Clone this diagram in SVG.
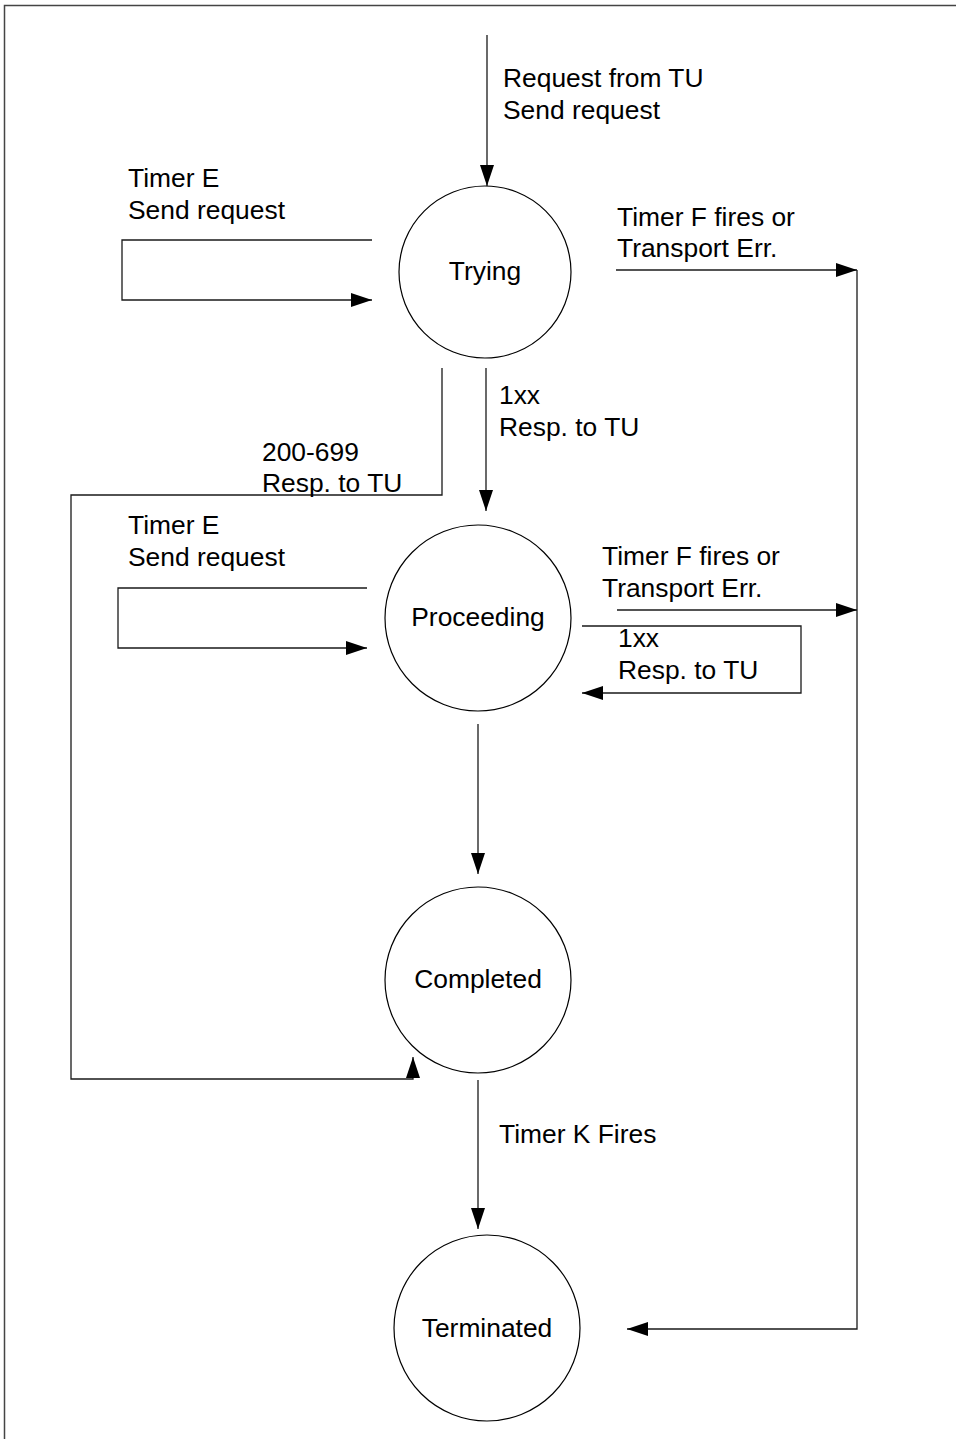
<svg xmlns="http://www.w3.org/2000/svg" width="956" height="1439" viewBox="0 0 956 1439">
  <style>
    .state { fill: #ffffff; stroke: #000000; stroke-width: 1.2; }
    .label { font-family: "Liberation Sans", Arial, sans-serif; font-size: 26.4px; fill: #000000; }
    .name { text-anchor: middle; }
    .edge { fill: none; stroke: #1a1a1a; stroke-width: 1.3; }
  </style>
  <defs>
    <marker id="arrow" markerWidth="21" markerHeight="14" refX="21" refY="7" orient="auto" markerUnits="userSpaceOnUse">
      <path d="M0,0 L21,7 L0,14 Z" fill="#000000"/>
    </marker>
  </defs>

  <!-- frame -->
  <rect x="4.5" y="5.5" width="1000" height="1500" fill="#ffffff" stroke="#444444" stroke-width="1.5"/>

  <!-- connectors -->
  <g id="connectors">
    <path class="edge" d="M487,35 L487,186" marker-end="url(#arrow)"/>
    <path class="edge" d="M372,240 L122,240 L122,300 L372,300" marker-end="url(#arrow)"/>
    <path class="edge" d="M616,270 L857,270" marker-end="url(#arrow)"/>
    <path class="edge" d="M857,270 L857,1329 L627,1329" marker-end="url(#arrow)"/>
    <path class="edge" d="M486,368 L486,511" marker-end="url(#arrow)"/>
    <path class="edge" d="M442,368 L442,495 L71,495 L71,1079 L413,1079 L413,1057" marker-end="url(#arrow)"/>
    <path class="edge" d="M367,588 L118,588 L118,648 L367,648" marker-end="url(#arrow)"/>
    <path class="edge" d="M617,610 L857,610" marker-end="url(#arrow)"/>
    <path class="edge" d="M582,626 L801,626 L801,693 L582,693" marker-end="url(#arrow)"/>
    <path class="edge" d="M478,724 L478,874" marker-end="url(#arrow)"/>
    <path class="edge" d="M478,1080 L478,1229" marker-end="url(#arrow)"/>
  </g>

  <!-- connector labels -->
  <g id="edge-labels" class="label">
    <text x="503" y="87">Request from TU</text>
    <text x="503" y="119">Send request</text>
    <text x="128" y="187">Timer E</text>
    <text x="128" y="219">Send request</text>
    <text x="617" y="226">Timer F fires or</text>
    <text x="617" y="257">Transport Err.</text>
    <text x="499" y="404">1xx</text>
    <text x="499" y="436">Resp. to TU</text>
    <text x="262" y="461">200-699</text>
    <text x="262" y="492">Resp. to TU</text>
    <text x="128" y="534">Timer E</text>
    <text x="128" y="566">Send request</text>
    <text x="602" y="565">Timer F fires or</text>
    <text x="602" y="597">Transport Err.</text>
    <text x="618" y="647">1xx</text>
    <text x="618" y="679">Resp. to TU</text>
    <text x="499" y="1143">Timer K Fires</text>
  </g>

  <!-- states -->
  <g id="trying">
    <circle class="state" cx="485" cy="272" r="86"/>
    <text class="label name" x="485" y="280">Trying</text>
  </g>
  <g id="proceeding">
    <circle class="state" cx="478" cy="618" r="93"/>
    <text class="label name" x="478" y="626">Proceeding</text>
  </g>
  <g id="completed">
    <circle class="state" cx="478" cy="980" r="93"/>
    <text class="label name" x="478" y="988">Completed</text>
  </g>
  <g id="terminated">
    <circle class="state" cx="487" cy="1328" r="93"/>
    <text class="label name" x="487" y="1337">Terminated</text>
  </g>
</svg>
